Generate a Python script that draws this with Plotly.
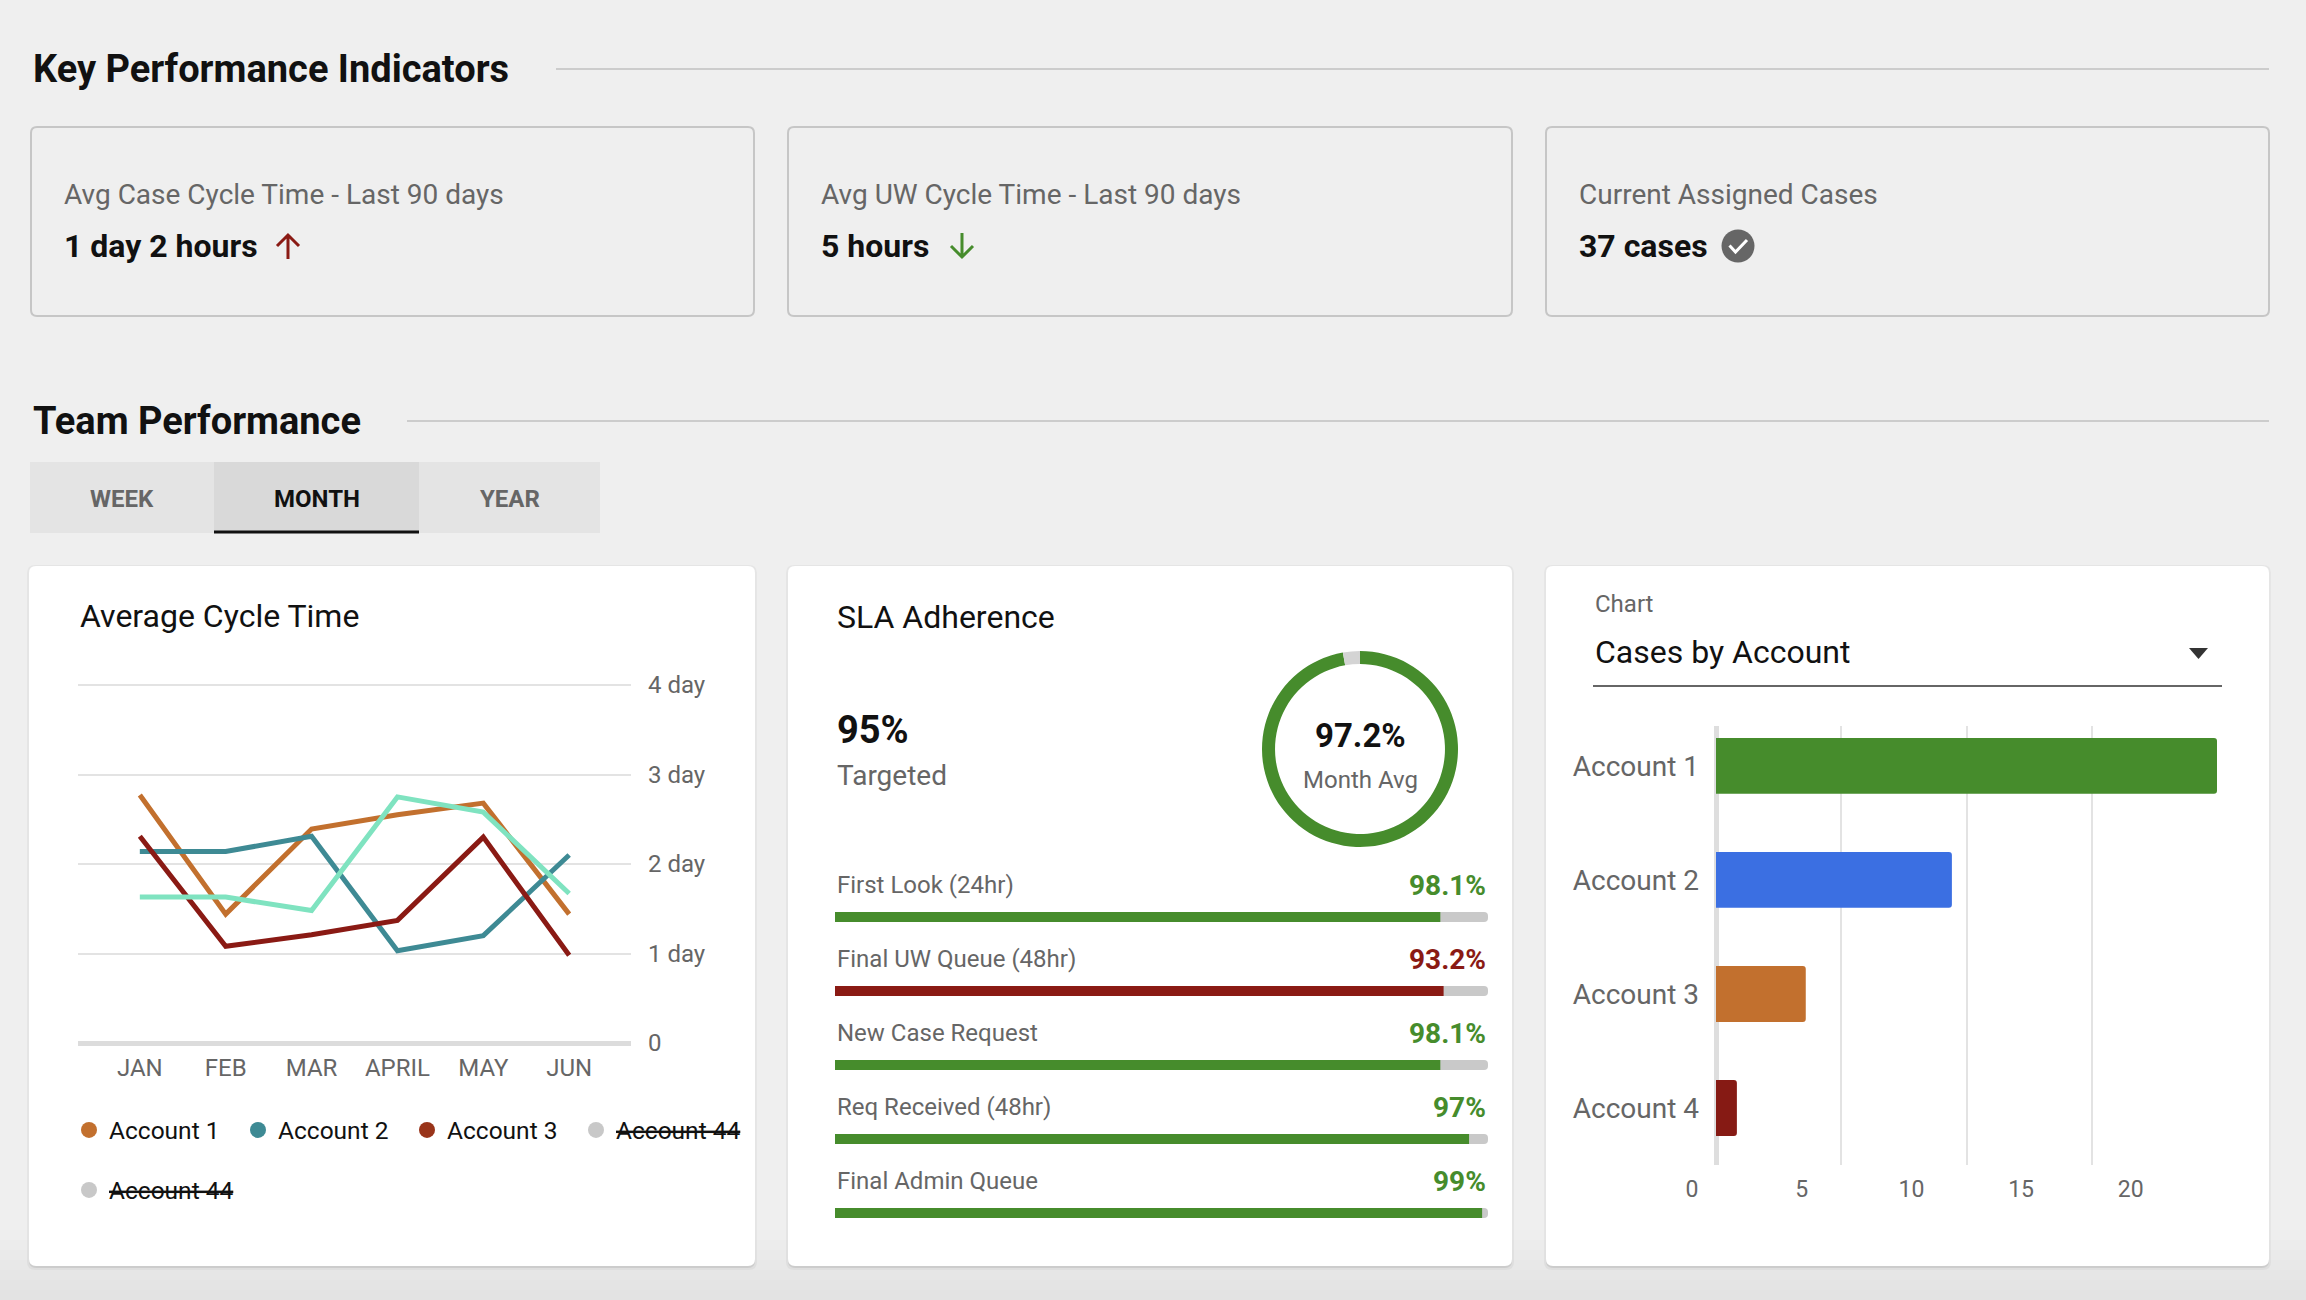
import plotly.graph_objects as go

W, H = 2306, 1300
FONT = "Roboto"
BG = "#efefef"
GREEN = "#468c2c"
RED = "#8a1a14"
GRAY_TXT = "#666666"
DARK = "#111111"

# ---------------- data ----------------
months = ["JAN", "FEB", "MAR", "APRIL", "MAY", "JUN"]
acct1_days = [2.77, 1.44, 2.39, 2.55, 2.68, 1.44]
acct2_days = [2.14, 2.14, 2.31, 1.03, 1.20, 2.10]
acct3_days = [2.31, 1.08, 1.21, 1.37, 2.30, 0.98]
acct4_days = [1.63, 1.63, 1.48, 2.75, 2.58, 1.67]
line_colors = ["#c2702e", "#3e8a94", "#8a1a14", "#7fe3c0"]
day_tick_vals = [0, 1, 2, 3, 4]
day_tick_text = ["0", "1 day", "2 day", "3 day", "4 day"]

legend_names = ["Account 1", "Account 2", "Account 3", "<s>Account 44</s>", "<s>Account 44</s>"]
legend_colors = ["#c2702e", "#3e8a94", "#99341a", "#c8c8c8", "#c8c8c8"]

sla_names = ["First Look (24hr)", "Final UW Queue (48hr)", "New Case Request",
             "Req Received (48hr)", "Final Admin Queue"]
sla_fill = [92.7, 93.2, 92.7, 97.1, 99.1]
sla_labels = ["98.1%", "93.2%", "98.1%", "97%", "99%"]
sla_colors = [GREEN, RED, GREEN, GREEN, GREEN]
sla_track = [100, 100, 100, 100, 100]
sla_target = "95%"
sla_month_avg = [97.2, 2.8]
sla_month_avg_label = "97.2%"

accounts = ["Account 1", "Account 2", "Account 3", "Account 4"]
account_cases = [24, 11.3, 4.3, 1.0]
account_colors = [GREEN, "#3b6fe2", "#c2702e", "#861a14"]
case_ticks = [0, 5, 10, 15, 20]

kpi_titles = ["Avg Case Cycle Time - Last 90 days", "Avg UW Cycle Time - Last 90 days",
              "Current Assigned Cases"]
kpi_values = ["1 day 2 hours", "5 hours", "37 cases"]
tabs = ["WEEK", "MONTH", "YEAR"]


# ---------------- helpers ----------------
def px(x):
    return x / W


def py(y):
    return 1 - y / H


def P(x, y):
    return f"{px(x):.5f},{py(y):.5f}"


def rrect(x0, y0, x1, y1, r):
    return (f"M{P(x0 + r, y0)} L{P(x1 - r, y0)} Q{P(x1, y0)} {P(x1, y0 + r)} "
            f"L{P(x1, y1 - r)} Q{P(x1, y1)} {P(x1 - r, y1)} L{P(x0 + r, y1)} "
            f"Q{P(x0, y1)} {P(x0, y1 - r)} L{P(x0, y0 + r)} Q{P(x0, y0)} {P(x0 + r, y0)} Z")


def txt(x, y, s, size, color, bold=False, xanchor="left"):
    return dict(x=px(x), y=py(y), xref="paper", yref="paper", text=s, showarrow=False,
                xanchor=xanchor, yanchor="middle",
                font=dict(family=FONT, size=size, color=color, weight=700 if bold else 400))


shapes = []
annotations = []

# bottom background gradient
grad = ["#eeeeee", "#ececec", "#eaeaea", "#e8e8e8", "#e6e6e6", "#e4e4e4", "#e3e3e3"]
for i, c in enumerate(grad):
    shapes.append(dict(type="rect", xref="paper", yref="paper", x0=0, x1=1,
                       y0=py(1230 + 10 * i + 10), y1=py(1230 + 10 * i), fillcolor=c,
                       line=dict(width=0), layer="below"))

# section headers
annotations.append(txt(31, 69, "Key Performance Indicators", 38, DARK, bold=True))
shapes.append(dict(type="line", xref="paper", yref="paper", x0=px(556), x1=px(2269),
                   y0=py(69), y1=py(69), line=dict(color="#cccccc", width=2), layer="below"))
annotations.append(txt(31, 421, "Team Performance", 38, DARK, bold=True))
shapes.append(dict(type="line", xref="paper", yref="paper", x0=px(407), x1=px(2269),
                   y0=py(421), y1=py(421), line=dict(color="#cccccc", width=2), layer="below"))

# KPI cards
card_x = [(31, 754), (788, 1512), (1546, 2269)]
for (x0, x1), t, v in zip(card_x, kpi_titles, kpi_values):
    shapes.append(dict(type="path", xref="paper", yref="paper", path=rrect(x0, 127, x1, 316, 6),
                       fillcolor=BG, line=dict(color="#c6c6c6", width=2), layer="below"))
    annotations.append(txt(x0 + 31, 194, t, 28, GRAY_TXT))
    annotations.append(txt(x0 + 31, 246, v, 32, DARK, bold=True))

# up arrow (red)
shapes.append(dict(type="path", xref="paper", yref="paper",
                   path=f"M{P(288, 259)} L{P(288, 235)} M{P(277, 246)} L{P(288, 235)} L{P(299, 246)}",
                   line=dict(color=RED, width=3), layer="above"))
# down arrow (green)
shapes.append(dict(type="path", xref="paper", yref="paper",
                   path=f"M{P(962, 233)} L{P(962, 257)} M{P(951, 246)} L{P(962, 257)} L{P(973, 246)}",
                   line=dict(color=GREEN, width=3), layer="above"))
# check circle
shapes.append(dict(type="circle", xref="paper", yref="paper", x0=px(1738 - 16.5), x1=px(1738 + 16.5),
                   y0=py(246 + 16.5), y1=py(246 - 16.5), fillcolor="#666666", line=dict(width=0)))
shapes.append(dict(type="path", xref="paper", yref="paper",
                   path=f"M{P(1729.5, 245.5)} L{P(1735.5, 252)} L{P(1747, 240)}",
                   line=dict(color="white", width=3)))

# tabs
tab_x = [(30, 214), (214, 419), (419, 600)]
for (x0, x1), name in zip(tab_x, tabs):
    active = name == "MONTH"
    shapes.append(dict(type="rect", xref="paper", yref="paper", x0=px(x0), x1=px(x1),
                       y0=py(533), y1=py(462), fillcolor="#d9d9d9" if active else "#e4e4e4",
                       line=dict(width=0), layer="below"))
    annotations.append(txt((x0 + x1) / 2, 499, name, 24, DARK if active else GRAY_TXT,
                           bold=True, xanchor="center"))
shapes.append(dict(type="line", xref="paper", yref="paper", x0=px(214), x1=px(419),
                   y0=py(532), y1=py(532), line=dict(color=DARK, width=3), layer="below"))

# white panels with shadow
panel_x = [(29, 755), (788, 1512), (1546, 2269)]
for x0, x1 in panel_x:
    shapes.append(dict(type="path", xref="paper", yref="paper", path=rrect(x0 - 2, 565, x1 + 2, 1270, 8),
                       fillcolor="rgba(0,0,0,0.04)", line=dict(width=0), layer="below"))
    shapes.append(dict(type="path", xref="paper", yref="paper", path=rrect(x0, 568, x1, 1268, 7),
                       fillcolor="rgba(0,0,0,0.08)", line=dict(width=0), layer="below"))
    shapes.append(dict(type="path", xref="paper", yref="paper", path=rrect(x0, 566, x1, 1266, 7),
                       fillcolor="#ffffff", line=dict(width=0), layer="below"))

# panel texts
annotations.append(txt(78, 616, "Average Cycle Time", 32, DARK))
annotations.append(txt(835, 617, "SLA Adherence", 32, DARK))
annotations.append(txt(835, 730, sla_target, 38, DARK, bold=True))
annotations.append(txt(835, 775, "Targeted", 28, GRAY_TXT))
annotations.append(txt(1360, 735, sla_month_avg_label, 33, DARK, bold=True, xanchor="center"))
annotations.append(txt(1360, 780, "Month Avg", 24, GRAY_TXT, xanchor="center"))
annotations.append(txt(1593, 604, "Chart", 24, GRAY_TXT))
annotations.append(txt(1593, 652, "Cases by Account", 32, DARK))
shapes.append(dict(type="line", xref="paper", yref="paper", x0=px(1593), x1=px(2222),
                   y0=py(686), y1=py(686), line=dict(color="#666666", width=2)))
shapes.append(dict(type="path", xref="paper", yref="paper",
                   path=f"M{P(2189, 648)} L{P(2208, 648)} L{P(2198.5, 659)} Z",
                   fillcolor="#333333", line=dict(width=0)))

# SLA row labels / values (placed through the SLA axes)
for name, lab, col in zip(sla_names, sla_labels, sla_colors):
    annotations.append(dict(x=0, y=name, xref="x2", yref="y2", text=name, showarrow=False,
                            xanchor="left", yanchor="middle", yshift=32,
                            font=dict(family=FONT, size=24, color=GRAY_TXT)))
    annotations.append(dict(x=100, y=name, xref="x2", yref="y2", text=lab, showarrow=False,
                            xanchor="right", yanchor="middle", yshift=32,
                            font=dict(family=FONT, size=28, color=col, weight=700)))

# ---------------- traces ----------------
fig = go.Figure()

for vals, col in zip([acct1_days, acct2_days, acct3_days, acct4_days], line_colors):
    fig.add_trace(go.Scatter(x=months, y=vals, mode="lines", line=dict(color=col, width=5),
                             showlegend=False, hoverinfo="skip", xaxis="x", yaxis="y"))

for i, (nm, col) in enumerate(zip(legend_names, legend_colors)):
    fig.add_trace(go.Scatter(x=[None], y=[None], mode="markers", name=nm,
                             marker=dict(color=col, size=18, symbol="circle"),
                             showlegend=True, xaxis="x", yaxis="y",
                             legend="legend" if i < 4 else "legend2"))

# SLA progress bars
fig.add_trace(go.Bar(x=sla_track, y=sla_names, orientation="h", width=0.135,
                     marker=dict(color="#c9c9c9", cornerradius=5, line=dict(width=0)),
                     showlegend=False, hoverinfo="skip", xaxis="x2", yaxis="y2"))
fig.add_trace(go.Bar(x=sla_fill, y=sla_names, orientation="h", width=0.135,
                     marker=dict(color=sla_colors, cornerradius=5, line=dict(width=0)),
                     showlegend=False, hoverinfo="skip", xaxis="x2", yaxis="y2"))

# SLA month average donut
fig.add_trace(go.Pie(values=sla_month_avg, labels=["Met", "Missed"], hole=0.867, sort=False,
                     direction="clockwise", rotation=0, textinfo="none", hoverinfo="skip",
                     marker=dict(colors=[GREEN, "#d4d4d4"], line=dict(width=0)),
                     showlegend=False,
                     domain=dict(x=[px(1262), px(1458)], y=[py(847), py(651)])))

# Cases by account
fig.add_trace(go.Bar(x=account_cases, y=accounts, orientation="h", width=0.49,
                     marker=dict(color=account_colors, cornerradius=3, line=dict(width=0)),
                     showlegend=False, hoverinfo="skip", xaxis="x3", yaxis="y3"))
# carrier for the case-count tick label axis
fig.add_trace(go.Scatter(x=[0], y=[accounts[0]], mode="markers", marker=dict(opacity=0, size=1),
                         showlegend=False, hoverinfo="skip", xaxis="x4", yaxis="y3"))

tickfont = dict(family=FONT, size=24, color=GRAY_TXT)
legend_common = dict(orientation="h", xanchor="left", yanchor="middle", bgcolor="rgba(0,0,0,0)",
                     font=dict(family=FONT, size=24.5, color=DARK), itemwidth=30,
                     entrywidth=124, entrywidthmode="pixels", itemclick=False,
                     itemdoubleclick=False)

fig.update_layout(
    width=W, height=H, margin=dict(l=0, r=0, t=0, b=0, autoexpand=False),
    paper_bgcolor=BG, plot_bgcolor="rgba(0,0,0,0)", barmode="overlay",
    font=dict(family=FONT), hovermode=False,
    shapes=shapes, annotations=annotations,
    legend=dict(x=px(69), y=py(1130), **legend_common),
    legend2=dict(x=px(69), y=py(1190), **legend_common),
    xaxis=dict(domain=[px(78), px(631)], type="category", range=[-0.72, 5.72],
               showgrid=False, zeroline=False, showline=False, ticks="",
               tickfont=tickfont, ticklabelstandoff=6, anchor="y", fixedrange=True),
    yaxis=dict(domain=[py(1044.8), py(683.2)], range=[-0.02, 4.02], side="right",
               tickvals=day_tick_vals, ticktext=day_tick_text, showgrid=True,
               gridcolor="#e3e3e3", gridwidth=2, zeroline=True, zerolinecolor="#dcdcdc",
               zerolinewidth=5, showline=False, ticks="", tickfont=tickfont,
               ticklabelstandoff=16, anchor="x", fixedrange=True),
    xaxis2=dict(domain=[px(835), px(1488)], range=[0, 100], visible=False, anchor="y2",
                fixedrange=True),
    yaxis2=dict(domain=[py(1250), py(880)], type="category", categoryarray=sla_names,
                range=[4.5, -0.5], visible=False, anchor="x2", fixedrange=True),
    xaxis3=dict(domain=[px(1716), px(2217)], range=[0, 24], tickvals=[0, 6, 12, 18, 24],
                showticklabels=False, showgrid=True, gridcolor="#e3e3e3", gridwidth=2,
                zeroline=True, zerolinecolor="#dedede", zerolinewidth=5, showline=False,
                ticks="", anchor="y3", fixedrange=True),
    yaxis3=dict(domain=[py(1165), py(726)], type="category", categoryarray=accounts,
                range=[3.5, -0.35], showgrid=False, zeroline=False, showline=False, ticks="",
                tickfont=dict(family=FONT, size=28, color=GRAY_TXT), ticklabelstandoff=16,
                anchor="x3", fixedrange=True),
    xaxis4=dict(domain=[px(1692), px(2217)], range=[0, 23.93], tickvals=case_ticks,
                showgrid=False, zeroline=False, showline=False, ticks="",
                tickfont=dict(family=FONT, size=23, color=GRAY_TXT), ticklabelstandoff=8,
                anchor="y3", fixedrange=True),
)

fig.write_html(
    "out.html",
    config={"displayModeBar": False},
    post_script="document.body.style.margin='0';document.body.style.background='" + BG + "';",
)
